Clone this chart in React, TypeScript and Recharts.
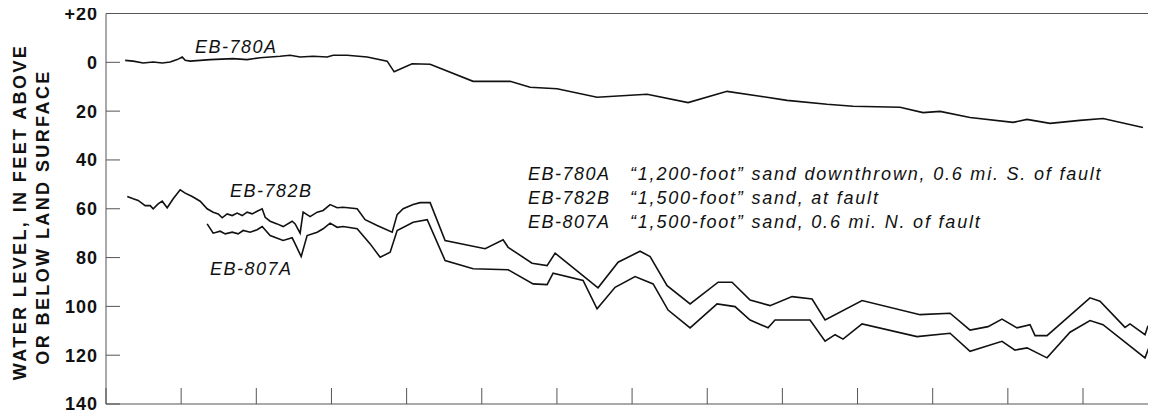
import React from "react";
import { LineChart, Line, XAxis, YAxis } from "recharts";

// x: years from start of record (one tick per year), v: feet below (+) / above (-) land surface
const xTicks = [0, 1, 2, 3, 4, 5, 6, 7, 8, 9, 10, 11, 12, 13];
const xDomainEnd = 13.918;
const yTicks = [-20, 0, 20, 40, 60, 80, 100, 120, 140];
const yTickLabels: Record<number, string> = {
  [-20]: "+20", 0: "0", 20: "20", 40: "40", 60: "60", 80: "80", 100: "100", 120: "120", 140: "140",
};

const eb780a = [
  { t: 0.255, v: -0.8 }, { t: 0.362, v: -0.5 }, { t: 0.495, v: 0.3 }, { t: 0.628, v: -0.1 },
  { t: 0.748, v: 0.3 }, { t: 0.854, v: -0.1 }, { t: 0.947, v: -1.1 }, { t: 1.014, v: -2.2 },
  { t: 1.054, v: -0.8 }, { t: 1.12, v: -0.5 }, { t: 1.386, v: -1.1 }, { t: 1.692, v: -1.5 },
  { t: 1.878, v: -1.1 }, { t: 2.051, v: -1.9 }, { t: 2.317, v: -2.5 }, { t: 2.45, v: -2.9 },
  { t: 2.583, v: -2.2 }, { t: 2.756, v: -2.5 }, { t: 2.943, v: -2.2 }, { t: 3.022, v: -2.9 },
  { t: 3.209, v: -2.9 }, { t: 3.475, v: -2.2 }, { t: 3.741, v: -0.5 }, { t: 3.834, v: 3.9 },
  { t: 4.073, v: 0.6 }, { t: 4.313, v: 0.8 }, { t: 4.885, v: 7.8 }, { t: 5.377, v: 7.8 },
  { t: 5.643, v: 10.2 }, { t: 6.002, v: 10.8 }, { t: 6.534, v: 14.3 }, { t: 7.2, v: 13.1 },
  { t: 7.745, v: 16.5 }, { t: 8.264, v: 11.9 }, { t: 8.703, v: 13.9 }, { t: 9.062, v: 15.6 },
  { t: 9.594, v: 17.2 }, { t: 9.94, v: 18.0 }, { t: 10.565, v: 18.4 }, { t: 10.871, v: 20.6 },
  { t: 11.098, v: 20.1 }, { t: 11.497, v: 22.6 }, { t: 12.069, v: 24.6 }, { t: 12.255, v: 23.4 },
  { t: 12.561, v: 25.0 }, { t: 12.96, v: 23.8 }, { t: 13.266, v: 23.0 }, { t: 13.798, v: 26.7 },
];

const eb782b = [
  { t: 0.283, v: 55.0 }, { t: 0.362, v: 55.9 }, { t: 0.428, v: 56.6 }, { t: 0.521, v: 58.7 },
  { t: 0.588, v: 58.7 }, { t: 0.628, v: 60.0 }, { t: 0.694, v: 58.0 }, { t: 0.748, v: 56.9 },
  { t: 0.814, v: 59.6 }, { t: 0.894, v: 55.9 }, { t: 0.987, v: 52.2 }, { t: 1.054, v: 53.6 },
  { t: 1.147, v: 55.0 }, { t: 1.253, v: 56.9 }, { t: 1.346, v: 60.0 }, { t: 1.426, v: 61.4 },
  { t: 1.493, v: 62.1 }, { t: 1.546, v: 63.7 }, { t: 1.612, v: 62.1 }, { t: 1.679, v: 62.8 },
  { t: 1.745, v: 61.8 }, { t: 1.812, v: 62.8 }, { t: 1.878, v: 61.4 }, { t: 1.945, v: 62.1 },
  { t: 2.011, v: 61.0 }, { t: 2.078, v: 60.0 }, { t: 2.118, v: 63.5 }, { t: 2.184, v: 65.1 },
  { t: 2.277, v: 66.2 }, { t: 2.357, v: 67.3 }, { t: 2.477, v: 65.1 }, { t: 2.517, v: 66.2 },
  { t: 2.583, v: 70.0 }, { t: 2.623, v: 61.4 }, { t: 2.716, v: 63.2 }, { t: 2.81, v: 61.4 },
  { t: 2.889, v: 60.7 }, { t: 2.982, v: 58.3 }, { t: 3.076, v: 59.6 }, { t: 3.155, v: 59.4 },
  { t: 3.342, v: 60.0 }, { t: 3.448, v: 64.5 }, { t: 3.608, v: 66.9 }, { t: 3.808, v: 69.6 },
  { t: 3.874, v: 62.4 }, { t: 3.954, v: 60.0 }, { t: 4.087, v: 58.3 }, { t: 4.18, v: 57.5 },
  { t: 4.313, v: 57.5 }, { t: 4.512, v: 73.0 }, { t: 5.045, v: 76.4 }, { t: 5.284, v: 72.7 },
  { t: 5.351, v: 75.8 }, { t: 5.669, v: 82.3 }, { t: 5.869, v: 83.3 }, { t: 5.976, v: 78.2 },
  { t: 6.547, v: 92.4 }, { t: 6.814, v: 81.9 }, { t: 7.106, v: 77.4 }, { t: 7.24, v: 79.6 },
  { t: 7.466, v: 91.5 }, { t: 7.772, v: 99.0 }, { t: 8.145, v: 90.1 }, { t: 8.33, v: 90.1 },
  { t: 8.57, v: 97.4 }, { t: 8.836, v: 99.7 }, { t: 9.129, v: 96.0 }, { t: 9.395, v: 97.0 },
  { t: 9.568, v: 105.6 }, { t: 10.06, v: 97.6 }, { t: 10.832, v: 103.4 }, { t: 11.231, v: 102.8 },
  { t: 11.497, v: 109.7 }, { t: 11.736, v: 108.3 }, { t: 11.922, v: 105.2 }, { t: 12.122, v: 108.8 },
  { t: 12.295, v: 107.5 }, { t: 12.362, v: 112.0 }, { t: 12.521, v: 112.0 }, { t: 13.093, v: 96.5 },
  { t: 13.226, v: 97.9 }, { t: 13.559, v: 108.6 }, { t: 13.625, v: 107.2 }, { t: 13.825, v: 111.6 },
  { t: 13.865, v: 107.9 },
];

const eb807a = [
  { t: 1.346, v: 66.2 }, { t: 1.426, v: 70.0 }, { t: 1.519, v: 69.2 }, { t: 1.586, v: 70.3 },
  { t: 1.679, v: 69.6 }, { t: 1.759, v: 70.3 }, { t: 1.825, v: 68.9 }, { t: 1.918, v: 69.6 },
  { t: 2.011, v: 68.6 }, { t: 2.078, v: 67.3 }, { t: 2.184, v: 71.0 }, { t: 2.357, v: 73.0 },
  { t: 2.477, v: 71.9 }, { t: 2.517, v: 74.4 }, { t: 2.597, v: 79.6 }, { t: 2.676, v: 71.0 },
  { t: 2.81, v: 69.6 }, { t: 2.889, v: 68.2 }, { t: 2.982, v: 65.9 }, { t: 3.076, v: 67.6 },
  { t: 3.155, v: 67.3 }, { t: 3.342, v: 68.2 }, { t: 3.515, v: 74.4 }, { t: 3.648, v: 79.9 },
  { t: 3.781, v: 77.8 }, { t: 3.874, v: 68.9 }, { t: 4.087, v: 65.5 }, { t: 4.274, v: 64.5 },
  { t: 4.512, v: 81.2 }, { t: 4.885, v: 84.6 }, { t: 5.351, v: 85.0 }, { t: 5.683, v: 90.8 },
  { t: 5.869, v: 91.1 }, { t: 5.949, v: 86.4 }, { t: 6.348, v: 89.4 }, { t: 6.534, v: 101.0 },
  { t: 6.774, v: 92.2 }, { t: 7.04, v: 87.8 }, { t: 7.28, v: 90.8 }, { t: 7.479, v: 101.5 },
  { t: 7.772, v: 108.8 }, { t: 8.131, v: 99.0 }, { t: 8.37, v: 100.1 }, { t: 8.57, v: 105.6 },
  { t: 8.809, v: 108.8 }, { t: 8.902, v: 105.6 }, { t: 9.368, v: 105.6 }, { t: 9.568, v: 114.3 },
  { t: 9.701, v: 111.6 }, { t: 9.807, v: 113.4 }, { t: 10.06, v: 107.2 }, { t: 10.791, v: 112.4 },
  { t: 11.231, v: 111.0 }, { t: 11.497, v: 118.4 }, { t: 11.922, v: 114.3 }, { t: 12.095, v: 117.9 },
  { t: 12.255, v: 117.0 }, { t: 12.521, v: 121.1 }, { t: 12.827, v: 110.6 }, { t: 13.093, v: 105.8 },
  { t: 13.266, v: 107.5 }, { t: 13.825, v: 121.1 }, { t: 13.878, v: 116.8 },
];

const yTitle = ["WATER LEVEL, IN FEET ABOVE", "OR BELOW LAND SURFACE"];
const wellNames = ["EB-780A", "EB-782B", "EB-807A"];
const wellDescriptions = [
  "\u201C1,200-foot\u201D sand downthrown, 0.6 mi. S. of fault",
  "\u201C1,500-foot\u201D sand, at fault",
  "\u201C1,500-foot\u201D sand, 0.6 mi. N. of fault",
];

const FONT = "'Liberation Sans', Arial, Helvetica, sans-serif";
const INK = "#111";
const FRAME = "#555";
const W = 1156;
const H = 417;

const italic = {
  fontFamily: FONT,
  fontStyle: "italic" as const,
  fontSize: 18,
  fill: INK,
};

export default function App() {
  return (
    <div style={{ position: "relative", width: W, height: H, margin: "-8px 0 0 -8px", background: "#fff" }}>
      <LineChart width={W} height={H} margin={{ top: 12.5, right: 3, bottom: 12, left: 0 }}>
        <XAxis
          xAxisId="b"
          type="number"
          dataKey="t"
          domain={[0, xDomainEnd]}
          ticks={xTicks}
          tickSize={-16}
          tickFormatter={() => ""}
          height={1}
          axisLine={{ stroke: FRAME, strokeWidth: 1 }}
          tickLine={{ stroke: FRAME, strokeWidth: 1 }}
        />
        <XAxis
          xAxisId="top"
          orientation="top"
          type="number"
          dataKey="t"
          domain={[0, xDomainEnd]}
          ticks={xTicks}
          tickSize={-16}
          tickFormatter={() => ""}
          height={1}
          axisLine={{ stroke: FRAME, strokeWidth: 1 }}
          tickLine={{ stroke: FRAME, strokeWidth: 1 }}
        />
        <YAxis
          yAxisId="l"
          type="number"
          domain={[-20, 140]}
          reversed
          ticks={yTicks}
          interval={0}
          tickSize={-14}
          tickMargin={22}
          width={106}
          axisLine={{ stroke: FRAME, strokeWidth: 1 }}
          tickLine={{ stroke: FRAME, strokeWidth: 1 }}
          tick={{ fill: INK, fontSize: 18, fontWeight: 700, fontFamily: FONT, letterSpacing: 1 }}
          tickFormatter={(v: number) => yTickLabels[v] ?? String(v)}
        />
        <YAxis
          yAxisId="r"
          orientation="right"
          type="number"
          domain={[-20, 140]}
          reversed
          ticks={yTicks}
          interval={0}
          tickSize={-14}
          width={1}
          tickFormatter={() => ""}
          axisLine={{ stroke: FRAME, strokeWidth: 1 }}
          tickLine={{ stroke: FRAME, strokeWidth: 1 }}
        />
        <Line xAxisId="b" yAxisId="l" data={eb780a} dataKey="v" type="linear" stroke={INK} strokeWidth={1.6} dot={false} isAnimationActive={false} />
        <Line xAxisId="b" yAxisId="l" data={eb782b} dataKey="v" type="linear" stroke={INK} strokeWidth={1.6} dot={false} isAnimationActive={false} />
        <Line xAxisId="b" yAxisId="l" data={eb807a} dataKey="v" type="linear" stroke={INK} strokeWidth={1.6} dot={false} isAnimationActive={false} />
      </LineChart>
      <svg width={W} height={H} style={{ position: "absolute", left: 0, top: 0, pointerEvents: "none" }}>
        <text
          transform="translate(20 212) rotate(-90)"
          textAnchor="middle"
          dominantBaseline="central"
          style={{ fontFamily: FONT, fontWeight: 700, fontSize: 18, letterSpacing: 2.4 }}
          fill={INK}
        >
          {yTitle[0]}
        </text>
        <text
          transform="translate(42.5 217) rotate(-90)"
          textAnchor="middle"
          dominantBaseline="central"
          style={{ fontFamily: FONT, fontWeight: 700, fontSize: 18, letterSpacing: 2.4 }}
          fill={INK}
        >
          {yTitle[1]}
        </text>

        <text x={195} y={53} style={{ ...italic, letterSpacing: 1.5 }}>{wellNames[0]}</text>
        <text x={230} y={197} style={{ ...italic, letterSpacing: 1.5 }}>{wellNames[1]}</text>
        <text x={210} y={275} style={{ ...italic, letterSpacing: 1.5 }}>{wellNames[2]}</text>

        {wellNames.map((n, i) => (
          <text key={n} x={528} y={180 + i * 24} style={{ ...italic, letterSpacing: 1.5 }}>{n}</text>
        ))}
        {wellDescriptions.map((d, i) => (
          <text key={i} x={630} y={180 + i * 24} style={{ ...italic, letterSpacing: 1.8 }}>{d}</text>
        ))}
      </svg>
    </div>
  );
}
